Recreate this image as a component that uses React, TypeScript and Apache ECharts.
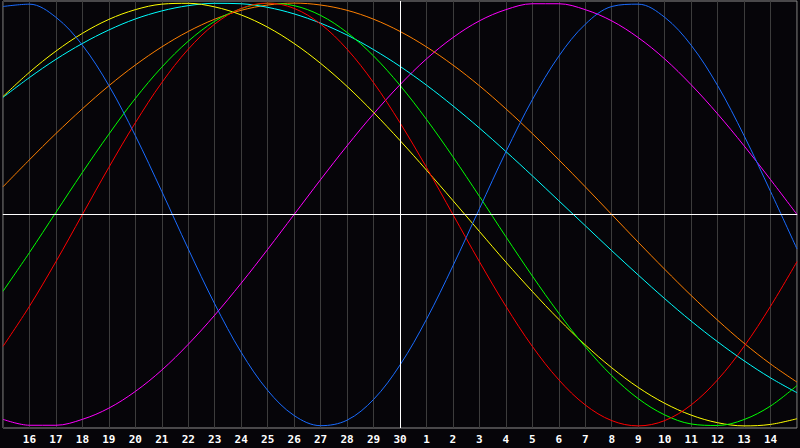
import React, { useEffect, useRef } from 'react';
import * as echarts from 'echarts';

// day labels along the bottom (15th to 15th of next month)
const days = [
  '15', '16', '17', '18', '19', '20', '21', '22', '23', '24', '25', '26', '27', '28', '29', '30',
  '1', '2', '3', '4', '5', '6', '7', '8', '9', '10', '11', '12', '13', '14', '15',
];

const physical = [
  0.984, 0.995, 0.933, 0.801, 0.61, 0.373, 0.109, -0.163, -0.423, -0.652, -0.832, -0.951, -0.999,
  -0.973, -0.875, -0.712, -0.496, -0.243, 0.027, 0.296, 0.543, 0.749, 0.9, 0.984, 0.995, 0.933,
  0.801, 0.61, 0.373, 0.109, -0.163,
];
const emotional = [
  -0.624, -0.434, -0.223, 0, 0.223, 0.434, 0.624, 0.782, 0.901, 0.975, 1, 0.975, 0.901, 0.782,
  0.624, 0.434, 0.223, 0, -0.223, -0.434, -0.624, -0.782, -0.901, -0.975, -1, -0.975, -0.901,
  -0.782, -0.624, -0.434, -0.223,
];
const intellectual = [
  -0.363, -0.18, 0.01, 0.199, 0.38, 0.549, 0.697, 0.82, 0.914, 0.974, 0.999, 0.988, 0.942, 0.861,
  0.75, 0.611, 0.45, 0.273, 0.086, -0.105, -0.291, -0.467, -0.626, -0.762, -0.871, -0.948, -0.991,
  -0.998, -0.97, -0.906, -0.809,
];
const intuitive = [
  -0.969, -0.997, -0.997, -0.969, -0.916, -0.837, -0.736, -0.614, -0.476, -0.325, -0.165, 0, 0.165,
  0.325, 0.476, 0.614, 0.736, 0.837, 0.916, 0.969, 0.997, 0.997, 0.969, 0.916, 0.837, 0.736, 0.614,
  0.476, 0.325, 0.165, 0,
];
const aesthetic = [
  0.558, 0.673, 0.773, 0.857, 0.923, 0.969, 0.995, 0.999, 0.982, 0.944, 0.886, 0.809, 0.715, 0.606,
  0.483, 0.35, 0.21, 0.066, -0.08, -0.225, -0.364, -0.496, -0.617, -0.725, -0.818, -0.893, -0.949,
  -0.985, -1.0, -0.993, -0.966,
];
const awareness = [
  0.131, 0.259, 0.383, 0.5, 0.609, 0.707, 0.793, 0.866, 0.924, 0.966, 0.991, 1, 0.991, 0.966,
  0.924, 0.866, 0.793, 0.707, 0.609, 0.5, 0.383, 0.259, 0.131, 0, -0.131, -0.259, -0.383, -0.5,
  -0.609, -0.707, -0.793,
];
const spiritual = [
  0.554, 0.648, 0.734, 0.809, 0.873, 0.925, 0.963, 0.988, 0.999, 0.997, 0.98, 0.949, 0.905, 0.849,
  0.78, 0.701, 0.612, 0.514, 0.409, 0.298, 0.183, 0.065, -0.053, -0.171, -0.286, -0.398, -0.504,
  -0.602, -0.692, -0.773, -0.843,
];

const seriesList = [
  { name: 'Intuitive', data: intuitive, color: '#ff00ff' },
  { name: 'Awareness', data: awareness, color: '#ff8000' },
  { name: 'Spiritual', data: spiritual, color: '#00ffff' },
  { name: 'Aesthetic', data: aesthetic, color: '#ffff00' },
  { name: 'Intellectual', data: intellectual, color: '#00ff00' },
  { name: 'Emotional', data: emotional, color: '#ff0000' },
  { name: 'Physical', data: physical, color: '#1a6cff' },
];

const App: React.FC = () => {
  const chartRef = useRef<HTMLDivElement>(null);

  useEffect(() => {
    if (!chartRef.current) return;
    const chart = echarts.init(chartRef.current, undefined, { renderer: 'svg' });

    chart.setOption({
      animation: false,
      backgroundColor: '#060509',
      grid: {
        left: 1,
        right: 0,
        top: 1,
        bottom: 20,
        show: true,
        borderColor: '#8c8c8c',
        borderWidth: 1,
      },
      xAxis: {
        type: 'category',
        data: days,
        boundaryGap: false,
        axisLine: { show: true, lineStyle: { color: '#a0a0a0', width: 1 } },
        axisTick: { show: false },
        axisLabel: {
          interval: 0,
          margin: 6,
          color: '#ffffff',
          fontFamily: 'DejaVu Sans Mono',
          fontWeight: 'bold',
          fontSize: 11,
          formatter: (v: string, i: number) => (i === 0 || i === days.length - 1 ? '' : v),
        },
        splitLine: { show: true, interval: 0, lineStyle: { color: '#3c3c3c', width: 1 } },
      },
      yAxis: {
        type: 'value',
        min: -1.01,
        max: 1.01,
        axisLine: { show: false },
        axisTick: { show: false },
        axisLabel: { show: false },
        splitLine: { show: false },
      },
      series: seriesList.map((s, idx) => ({
        name: s.name,
        type: 'line',
        data: s.data,
        smooth: 0.35,
        symbol: 'none',
        lineStyle: { color: s.color, width: 1 },
        itemStyle: { color: s.color },
        ...(idx === 0
          ? {
              markLine: {
                silent: true,
                symbol: 'none',
                label: { show: false },
                lineStyle: { color: '#ffffff', width: 1, type: 'solid' },
                data: [{ yAxis: 0 }, { xAxis: 15 }],
              },
            }
          : {}),
      })),
    });

    return () => chart.dispose();
  }, []);

  return (
    <div
      ref={chartRef}
      style={{ position: 'fixed', left: 0, top: 0, width: '800px', height: '448px' }}
    />
  );
};

export default App;
